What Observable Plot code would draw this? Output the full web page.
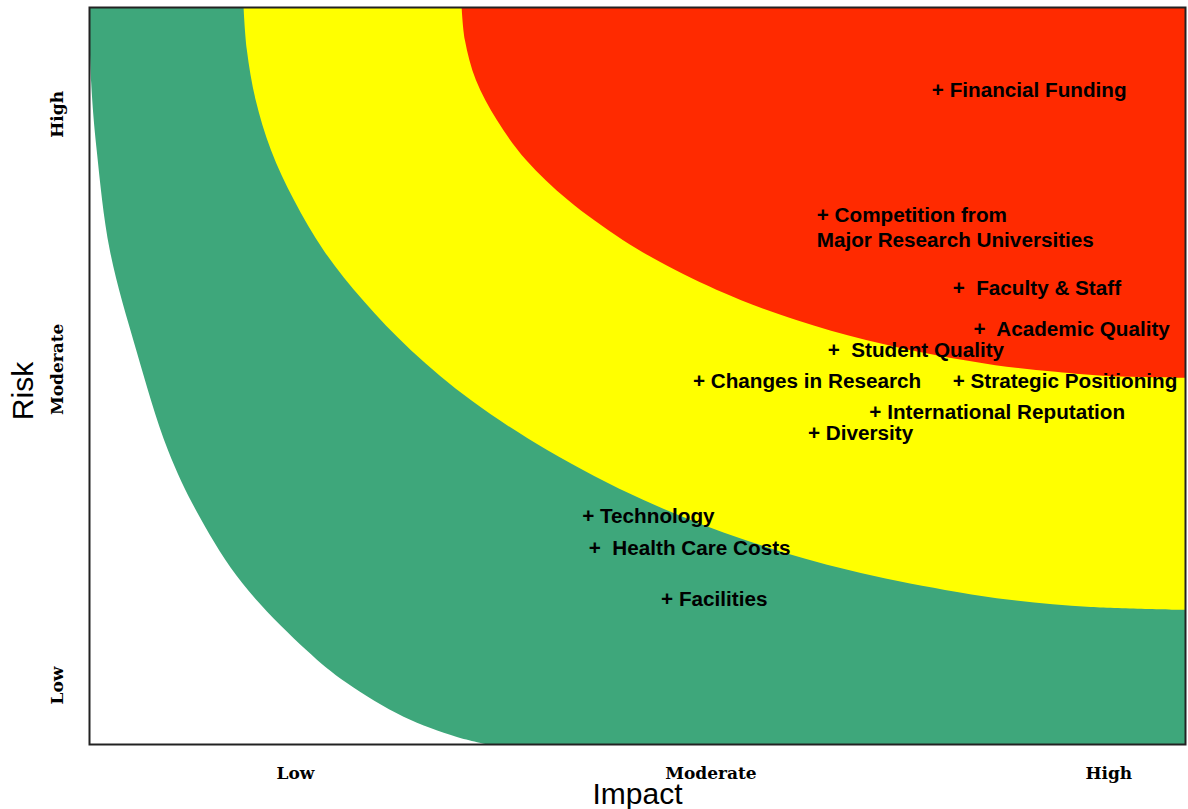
<!DOCTYPE html>
<html><head><meta charset="utf-8">
<script src="https://cdn.jsdelivr.net/npm/d3@7"></script>
<script src="https://cdn.jsdelivr.net/npm/@observablehq/plot@0.6"></script>
<style>html,body{margin:0;padding:0;background:#fff}</style>
</head><body><div id="chart"></div>
<script>
// Axis tick positions (impact / risk scale 0–10) and labels
const impactTicks = [1.88, 5.67, 9.30];
const impactTickLabels = ["Low", "Moderate", "High"];
const riskTicks = [8.55, 5.09, 0.80];
const riskTickLabels = ["High", "Moderate", "Low"];

// Risk items: label, impact, risk
const itemLabels = [
  "+ Financial Funding",
  "+ Competition from\nMajor Research Universities",
  "+\u00a0 Faculty & Staff",
  "+\u00a0 Academic Quality",
  "+\u00a0 Student Quality",
  "+ Changes in Research",
  "+ Strategic Positioning",
  "+ International Reputation",
  "+ Diversity",
  "+ Technology",
  "+\u00a0 Health Care Costs",
  "+ Facilities"
];
const itemImpact = [7.74, 6.69, 7.93, 8.12, 6.79, 5.56, 7.93, 7.17, 6.61, 4.55, 4.61, 5.27];
const itemRisk   = [8.88, 7.19, 6.20, 5.64, 5.36, 4.93, 4.93, 4.51, 4.23, 3.10, 2.67, 1.98];

// Zone boundaries (impact at given risk)
const lowEdgeImpact = [0.00, 0.02, 0.07, 0.19, 0.43, 0.72, 1.01, 1.40, 1.98, 2.35, 2.87, 3.35, 3.65];
const lowEdgeRisk   = [10.0, 8.97, 8.06, 6.70, 5.35, 3.99, 3.08, 2.18, 1.28, 0.83, 0.37, 0.10, -0.01];
const midEdgeImpact = [1.41, 1.44, 1.52, 1.66, 1.87, 2.14, 2.50, 2.94, 3.49, 4.18, 5.06, 5.98, 6.93, 7.81, 8.44, 9.14, 10.0];
const midEdgeRisk   = [10.0, 9.42, 8.74, 8.06, 7.38, 6.70, 6.02, 5.34, 4.66, 3.99, 3.31, 2.77, 2.36, 2.09, 1.95, 1.86, 1.82];
const highEdgeImpact = [3.40, 3.43, 3.53, 3.72, 3.99, 4.37, 4.87, 5.35, 5.95, 6.46, 7.09, 7.71, 8.27, 8.82, 9.32, 10.0];
const highEdgeRisk   = [10.0, 9.55, 9.01, 8.47, 7.92, 7.38, 6.84, 6.43, 6.02, 5.75, 5.48, 5.28, 5.14, 5.05, 4.99, 4.97];

const zip = (xs, ys) => xs.map((x, i) => ({impact: x, risk: ys[i]}));
const lowEdge = zip(lowEdgeImpact, lowEdgeRisk);
const midEdge = zip(midEdgeImpact, midEdgeRisk);
const highEdge = zip(highEdgeImpact, highEdgeRisk);
const items = itemLabels.map((t, i) => ({label: t, impact: itemImpact[i], risk: itemRisk[i]}));

const xLab = new Map(impactTicks.map((d, i) => [d, impactTickLabels[i]]));
const yLab = new Map(riskTicks.map((d, i) => [d, riskTickLabels[i]]));

const GREEN = "#3ea77b", YELLOW = "#ffff00", RED = "#ff2a00";
const SANS = "Liberation Sans, Arial, sans-serif";

const chart = Plot.plot({
  width: 1188,
  height: 809,
  marginLeft: 89,
  marginRight: 3,
  marginTop: 7,
  marginBottom: 65,
  style: {background: "#fff", overflow: "visible"},
  x: {domain: [0, 10]},
  y: {domain: [0, 10]},
  marks: [
    Plot.areaX(lowEdge, {x1: "impact", x2: 10, y: "risk", fill: GREEN, curve: "catmull-rom"}),
    Plot.areaX(midEdge, {x1: "impact", x2: 10, y: "risk", fill: YELLOW, curve: "catmull-rom"}),
    Plot.areaX(highEdge, {x1: "impact", x2: 10, y: "risk", fill: RED, curve: "catmull-rom"}),
    Plot.frame({stroke: "#222", strokeWidth: 2}),
    Plot.text(items, {
      x: "impact", y: "risk", text: "label",
      textAnchor: "start", lineAnchor: "top", dx: -6, dy: -10.5,
      lineHeight: 1.2,
      fontFamily: SANS, fontWeight: "bold", fontSize: 20.7, fill: "#000"
    }),
    Plot.axisX({
      ticks: impactTicks, tickFormat: d => xLab.get(d), tickSize: 0, tickPadding: 22,
      label: null, fontFamily: "DejaVu Serif", fontWeight: "bold", fontSize: 17, fill: "#000"
    }),
    Plot.axisY({
      ticks: riskTicks, tickFormat: d => yLab.get(d), tickSize: 0, tickPadding: 27, tickRotate: -90,
      label: null, fontFamily: "DejaVu Serif", fontWeight: "bold", fontSize: 17, fill: "#000"
    }),
    Plot.text(["Impact"], {frameAnchor: "bottom", lineAnchor: "middle", textAnchor: "middle", dy: 50, fontFamily: SANS, fontSize: 30, fill: "#000"}),
    Plot.text(["Risk"], {frameAnchor: "left", lineAnchor: "middle", textAnchor: "middle", dx: -66, dy: 15, rotate: -90, fontFamily: SANS, fontSize: 30, fill: "#000"})
  ]
});
document.getElementById("chart").appendChild(chart);
</script>
</body></html>
